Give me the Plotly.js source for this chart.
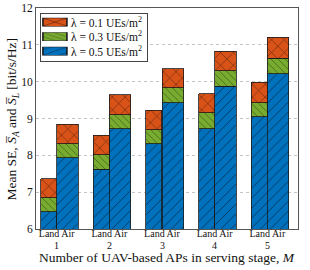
<!DOCTYPE html>
<html>
<head>
<meta charset="utf-8">
<script src="https://cdn.plot.ly/plotly-3.0.1.min.js"></script>
<style>html,body{margin:0;padding:0;background:#fff;}#chart{width:310px;height:270px;}</style>
</head>
<body>
<div id="chart"></div>
<script>
// Number of UAV-based APs M
const M = [1, 2, 3, 4, 5];
const tickLabels = ['Land Air', 'Land Air', 'Land Air', 'Land Air', 'Land Air'];
const groupLabels = ['1', '2', '3', '4', '5'];
const seriesNames = ['λ = 0.5 UEs/m<sup>2</sup>', 'λ = 0.3 UEs/m<sup>2</sup>', 'λ = 0.1 UEs/m<sup>2</sup>'];
// cumulative mean SE (top of each stacked segment)
const land05 = [6.47, 7.62, 8.32, 8.72, 9.05];
const land03 = [6.85, 8.02, 8.69, 9.16, 9.43];
const land01 = [7.37, 8.55, 9.22, 9.67, 9.99];
const air05  = [7.93, 8.72, 9.43, 9.88, 10.22];
const air03  = [8.32, 9.10, 9.83, 10.29, 10.63];
const air01  = [8.84, 9.65, 10.35, 10.82, 11.20];

const colors = ['#0072BD', '#77AC30', '#D95319'];
const hatchColors = ['#0b2f52', '#34480f', '#5a220a'];
const shapes = ['/', '\\', 'x'];
const sizes = [7, 5, 9];

const landX = M.map(m => m - 0.154);
const airX = M.map(m => m + 0.206);
const landW = 0.305, airW = 0.41;

function diffs(top, below) { return top.map((v, i) => v - (below ? below[i] : 0)); }

const landSeg = [diffs(land05), diffs(land03, land05), diffs(land01, land03)];
const airSeg = [diffs(air05), diffs(air03, air05), diffs(air01, air03)];

function mk(k) {
  return {
    color: colors[k],
    line: { color: '#1a1a1a', width: 0.8 },
    pattern: { shape: shapes[k], fgcolor: hatchColors[k], bgcolor: colors[k], fillmode: 'replace', size: sizes[k], solidity: 0.12 }
  };
}

const traces = [];
for (let k = 0; k < 3; k++) {
  traces.push({ type: 'bar', x: landX, y: landSeg[k], width: landW, name: seriesNames[k],
    marker: mk(k), legendgroup: 'g' + k, showlegend: true, hoverinfo: 'skip' });
  traces.push({ type: 'bar', x: airX, y: airSeg[k], width: airW, name: seriesNames[k],
    marker: mk(k), legendgroup: 'g' + k, showlegend: false, hoverinfo: 'skip' });
}

const serif = 'Liberation Serif, Times New Roman, serif';
const annotations = M.map((m, i) => ({
  x: m, y: 0, xref: 'x', yref: 'paper', text: groupLabels[i], showarrow: false,
  xanchor: 'center', yanchor: 'middle', yshift: -16.5,
  font: { family: serif, size: 10, color: '#111' }
}));
annotations.push({
  x: 0.5, y: 0, xref: 'paper', yref: 'paper', yanchor: 'middle', yshift: -28.5, showarrow: false,
  text: 'Number of UAV-based APs in serving stage, <i>M</i>',
  font: { family: serif, size: 13.5, color: '#111' }
});
annotations.push({
  x: -0.0878, y: 0.5, xref: 'paper', yref: 'paper', xanchor: 'center', yanchor: 'middle', showarrow: false,
  textangle: -90,
  text: 'Mean SE, <i>S\u0305</i><sub><i>A</i></sub> and <i>S\u0305</i><sub><i>L</i></sub> [bit/s/Hz]',
  font: { family: serif, size: 13.5, color: '#111' }
});

const layout = {
  width: 310, height: 270,
  margin: { l: 36, r: 12, t: 8, b: 41 },
  barmode: 'stack',
  paper_bgcolor: '#fff', plot_bgcolor: '#fff',
  font: { family: serif, color: '#111', size: 11 },
  showlegend: true,
  legend: {
    x: 0.015, y: 0.979, xanchor: 'left', yanchor: 'top',
    bordercolor: '#444', borderwidth: 1, bgcolor: '#fff',
    font: { family: serif, size: 11.5, color: '#111' },
    traceorder: 'reversed', tracegroupgap: 0
  },
  annotations: annotations,
  xaxis: {
    range: [0.607, 5.583], tickmode: 'array', tickvals: M, ticktext: tickLabels,
    showgrid: false, zeroline: false, showline: true, mirror: true, linecolor: '#555', linewidth: 1,
    ticks: '', ticklabelstandoff: -5, tickfont: { family: serif, size: 10, color: '#111' }
  },
  yaxis: {
    range: [6, 12], tickvals: [6, 7, 8, 9, 10, 11, 12],
    showgrid: true, gridcolor: '#c4c4c4', griddash: 'dot', gridwidth: 1,
    zeroline: false, showline: true, mirror: true, linecolor: '#555', linewidth: 1,
    ticks: '', tickfont: { family: serif, size: 11.5, color: '#111' }
  }
};

Plotly.newPlot('chart', traces, layout, { staticPlot: true, displayModeBar: false }).then(function (gd) {
  // compact the legend rows and widen the swatches to match the reference
  const leg = gd.querySelector('.legend');
  if (!leg) return;
  const items = leg.querySelectorAll('.traces');
  const rowH = 14.5, top = 9.5;
  items.forEach(function (g, i) {
    g.setAttribute('transform', 'translate(0,' + (top + i * rowH) + ')');
    const pts = g.querySelectorAll('.legendpoints path');
    pts.forEach(function (p) { p.setAttribute('transform', 'translate(15,0) scale(2,0.68)'); });
    const txt = g.querySelector('.legendtext');
    if (txt) txt.setAttribute('x', '31');
  });
  const bg = leg.querySelector('.bg');
  if (bg) {
    bg.setAttribute('height', String(top + (items.length - 1) * rowH + 9.5));
    bg.setAttribute('width', '107');
  }
});
</script>
</body>
</html>
